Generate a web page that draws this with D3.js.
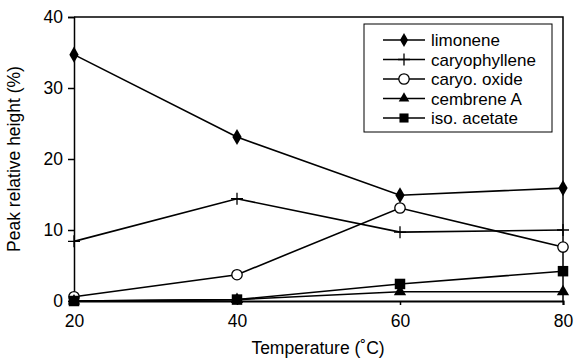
<!DOCTYPE html>
<html>
<head>
    <script src="https://cdnjs.cloudflare.com/ajax/libs/d3/7.8.5/d3.min.js"></script>
    <style>
        body { margin: 0; background: white; }
        svg { font-family: "Liberation Sans", Arial, sans-serif; }
    </style>
</head>
<body>
    <div id="chart"></div>
    <script>
        const temps = [20, 40, 60, 80];
        const limonene = [34.7, 23.1, 14.9, 15.9];
        const caryophyllene = [8.4, 14.4, 9.7, 10.0];
        const caryoOxide = [0.6, 3.7, 13.1, 7.6];
        const cembreneA = [0, 0.2, 1.3, 1.3];
        const isoAcetate = [0, 0.2, 2.4, 4.2];
        const seriesNames = ["limonene", "caryophyllene", "caryo. oxide", "cembrene A", "iso. acetate"];
        const yTicks = [0, 10, 20, 30, 40];

        const width = 574, height = 358;
        const mLeft = 74, mRight = 563, mTop = 17, mBottom = 301;

        const svg = d3.select("#chart").append("svg")
            .attr("width", width)
            .attr("height", height);

        const x = d3.scaleLinear().domain([20, 80]).range([mLeft, mRight]);
        const y = d3.scaleLinear().domain([0, 40]).range([mBottom, mTop]);

        // frame: top and right border
        svg.append("path")
            .attr("d", `M${mLeft},${mTop}H${mRight}V${mBottom}`)
            .attr("fill", "none")
            .attr("stroke", "black")
            .attr("stroke-width", 1.5);

        // y axis
        const yAxis = svg.append("g")
            .attr("transform", `translate(${mLeft},0)`)
            .call(d3.axisLeft(y).tickValues(yTicks).tickSize(6).tickPadding(5));
        yAxis.select(".domain").attr("stroke-width", 1.5);
        yAxis.selectAll(".tick line").attr("stroke-width", 1.5);
        yAxis.selectAll("text").attr("font-size", 17.5).attr("font-family", "Liberation Sans, Arial");

        // x axis
        const xAxis = svg.append("g")
            .attr("transform", `translate(0,${mBottom})`)
            .call(d3.axisBottom(x).tickValues(temps).tickSize(4).tickPadding(10));
        xAxis.select(".domain").attr("stroke-width", 2);
        xAxis.selectAll(".tick line").attr("stroke-width", 1.5);
        xAxis.selectAll("text").attr("font-size", 17.5).attr("font-family", "Liberation Sans, Arial");

        // axis titles
        svg.append("text")
            .attr("x", 318)
            .attr("y", 354)
            .attr("text-anchor", "middle")
            .attr("font-size", 17.5)
            .text("Temperature (˚C)");

        svg.append("text")
            .attr("transform", `translate(20,${(mTop + mBottom) / 2}) rotate(-90)`)
            .attr("text-anchor", "middle")
            .attr("font-size", 17.5)
            .text("Peak relative height (%)");

        const series = [limonene, caryophyllene, caryoOxide, cembreneA, isoAcetate];
        const symbols = [
            { type: d3.symbolDiamond, size: 75, fill: "black" },
            { type: "plus", fill: "none" },
            { type: "circle", fill: "white" },
            { type: d3.symbolTriangle, size: 65, fill: "black" },
            { type: d3.symbolSquare, size: 110, fill: "black" }
        ];

        function drawMarker(g, cx, cy, s) {
            if (s.type === "plus") {
                g.append("path")
                    .attr("d", `M${cx - 6},${cy}H${cx + 6}M${cx},${cy - 6}V${cy + 6}`)
                    .attr("stroke", "black")
                    .attr("stroke-width", 1.3);
            } else if (s.type === "circle") {
                g.append("circle")
                    .attr("cx", cx).attr("cy", cy).attr("r", 5.2)
                    .attr("fill", "white")
                    .attr("stroke", "black")
                    .attr("stroke-width", 1.3);
            } else {
                g.append("path")
                    .attr("transform", `translate(${cx},${cy})`)
                    .attr("d", d3.symbol().type(s.type).size(s.size)())
                    .attr("fill", s.fill);
            }
        }

        const line = d3.line()
            .x((d, i) => x(temps[i]))
            .y(d => y(d));

        series.forEach((vals, k) => {
            const g = svg.append("g");
            g.append("path")
                .attr("d", line(vals))
                .attr("fill", "none")
                .attr("stroke", "black")
                .attr("stroke-width", 1.6);
            vals.forEach((v, i) => drawMarker(g, x(temps[i]), y(v), symbols[k]));
        });

        // legend
        const lg = svg.append("g");
        lg.append("rect")
            .attr("x", 364).attr("y", 24)
            .attr("width", 188).attr("height", 108)
            .attr("fill", "white")
            .attr("stroke", "black")
            .attr("stroke-width", 1);
        seriesNames.forEach((name, k) => {
            const ly = 40 + k * 19.5;
            lg.append("line")
                .attr("x1", 383).attr("x2", 425)
                .attr("y1", ly).attr("y2", ly)
                .attr("stroke", "black")
                .attr("stroke-width", 1.6);
            const sym = Object.assign({}, symbols[k]);
            if (sym.size) sym.size = sym.size * 0.75;
            drawMarker(lg, 404, ly, sym);
            lg.append("text")
                .attr("x", 431).attr("y", ly + 6)
                .attr("font-size", 17)
                .text(name);
        });
    </script>
</body>
</html>
